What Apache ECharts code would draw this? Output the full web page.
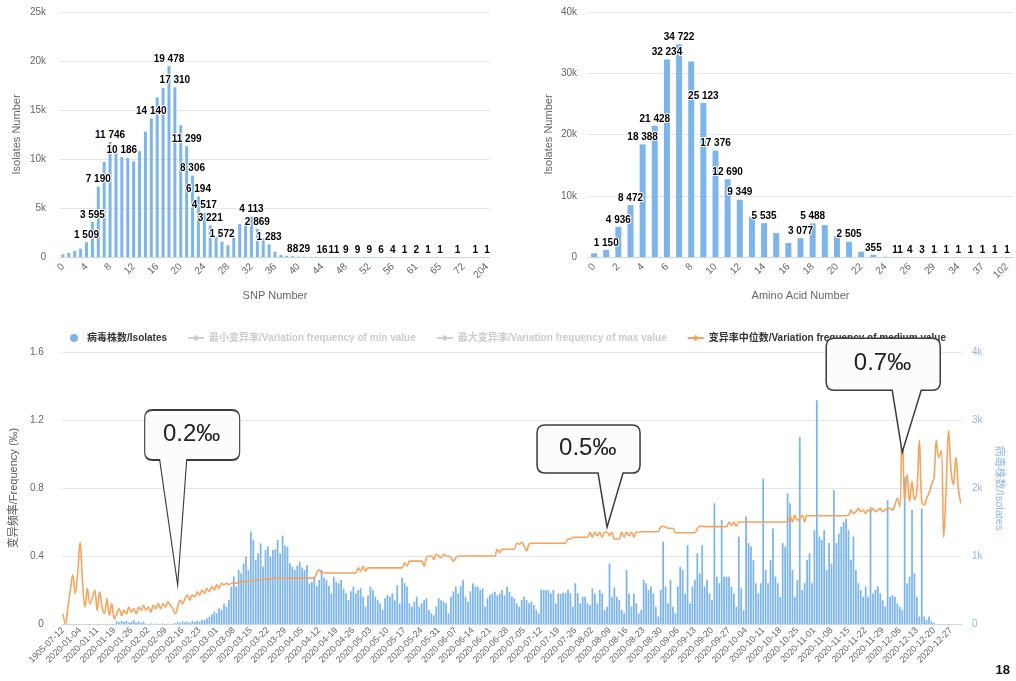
<!DOCTYPE html>
<html>
<head>
<meta charset="utf-8">
<script src="https://cdn.jsdelivr.net/npm/echarts@6/dist/echarts.min.js"></script>
<style>
  html, body { margin: 0; padding: 0; background: #fff; }
  #chart { width: 1016px; height: 681px; }
</style>
</head>
<body>
<div id="chart"></div>
<script>
// ---- top left: isolates by SNP number
const snpCategories = ['0','1','2','3','4','5','6','7','8','9','10','11','12','13','14','15','16','17','18','19',
  '20','21','22','23','24','25','26','27','28','29','30','31','32','33','34','35','36','37','38','39',
  '40','41','42','43','44','45','46','47','48','49','50','51','52','53','54','55','56',
  '57','58','59','61','62','63','64','65','67','68','70','72','74','79','88','204'];
const snpIsolates = [
  270, 410, 620, 850, 1509, 3595, 7190, 9700, 11746, 10900,
  10186, 10100, 9750, 10800, 12800, 14140, 16300, 17250, 19478, 17310,
  13450, 11299, 8306, 6194, 4517, 3221, 2050, 1572, 1200, 2200,
  3350, 3550, 4113, 2869, 1900, 1283, 550, 220, 120, 88,
  45, 29, 20, 18, 16, 13, 11, 10, 9, 8,
  9, 7, 9, 5, 6, 4, 4, 2, 1, 1,
  2, 1, 1, 1, 1, 1, 1, 1, 1, 1,
  1, 1, 1
];
// bars whose value label is visible
const snpLabelled = [4,5,6,8,10,15,18,19,21,22,23,24,25,27,32,33,35,39,41,44,46,48,50,52,54,56,58,60,62,64,67,70,72];

// ---- top right: isolates by amino acid number
const aaCategories = ['0','1','2','3','4','5','6','7','8','9','10','11','12','13','14','15','16','17','18','19',
  '20','21','22','23','24','25','26','28','29','31','34','36','37','41','102'];
const aaIsolates = [
  600, 1150, 4936, 8472, 18388, 21428, 32234, 34722, 31900, 25123,
  17376, 12690, 9349, 6600, 5535, 3900, 2300, 3077, 5488, 5200,
  3400, 2505, 870, 355, 40, 11, 4, 3, 1, 1,
  1, 1, 1, 1, 1
];
const aaLabelled = [1,2,3,4,5,6,7,9,10,11,12,14,17,18,21,23,25,26,27,28,29,30,31,32,33,34];

// ---- bottom: daily isolates and median variation frequency
const dates = ['1905-07-12', '2019-12-24', '2019-12-26', '2019-12-30', '2020-01-01', '2020-01-02', '2020-01-03'];
for (let t = Date.UTC(2020, 0, 4); t <= Date.UTC(2020, 11, 31); t += 86400000) {
  const d = new Date(t).toISOString().slice(0, 10);
  if (d !== '2020-01-15') dates.push(d);
}
const dailyIsolates = [
  0,0,0,0,0,0,0,0,0,0,
  0,0,0,0,0,0,0,0,0,0,
  0,0,40,25,50,30,45,20,35,55,
  25,40,20,30,5,0,8,0,5,3,
  0,6,0,4,0,5,10,30,15,40,
  25,35,20,45,30,50,35,60,60,84,
  108,140,180,157,230,206,300,255,353,550,
  700,550,794,745,890,990,794,1360,1235,941,
  1039,1186,842,1088,1140,990,1088,1100,1235,1039,
  1300,1150,1136,892,842,794,860,916,830,794,
  867,598,620,700,560,650,794,680,650,560,
  451,696,620,598,650,520,451,353,480,550,
  451,500,525,402,255,420,549,500,402,350,
  304,206,380,426,402,451,350,573,304,680,
  600,550,304,255,330,402,255,304,350,378,
  206,160,130,255,378,350,329,304,157,400,
  480,550,451,560,650,402,329,480,598,550,
  550,500,525,255,380,426,451,475,420,451,
  500,420,550,475,400,378,305,255,353,400,
  353,305,330,280,205,157,510,500,500,495,
  450,500,305,450,440,460,460,500,450,255,
  600,450,305,400,400,305,280,525,450,305,
  500,450,205,255,890,400,540,400,353,205,
  157,795,450,255,450,305,157,205,650,600,
  500,550,450,255,110,500,1210,550,305,650,
  255,157,550,840,795,450,1160,305,550,650,
  1040,745,1160,550,650,450,353,1775,695,600,
  1530,695,695,695,550,450,255,1285,525,205,
  1580,1190,1140,940,600,450,600,2140,795,600,
  940,1405,700,600,400,1190,1140,1920,1775,795,
  400,650,2750,500,600,940,1040,600,1380,3290,
  1285,1235,1380,795,1190,890,1970,1190,1330,1430,
  1500,1550,1380,940,1285,795,600,500,400,550,
  400,1725,450,500,550,450,350,255,1820,400,
  425,400,300,255,205,2165,600,700,1675,745,
  400,110,1700,110,60,110,40,20,0,0,
  0,0,0,0,0,0,0,0,0
];
const medianFrequency = [
  0.06,0.0,0.1,0.2,0.29,0.18,0.3,0.48,0.25,0.1,
  0.21,0.12,0.15,0.2,0.08,0.19,0.1,0.06,0.15,0.05,
  0.12,0.03,0.06,0.09,0.05,0.08,0.06,0.1,0.07,0.09,
  0.06,0.1,0.08,0.11,0.08,0.1,0.07,0.11,0.09,0.12,
  0.09,0.12,0.1,0.13,0.11,0.09,0.06,0.1,0.14,0.12,
  0.15,0.17,0.14,0.17,0.16,0.19,0.17,0.2,0.18,0.21,
  0.19,0.22,0.2,0.23,0.21,0.24,0.23,0.24,0.23,0.24,
  0.24,0.24,0.245,0.245,0.25,0.25,0.25,0.255,0.255,0.26,
  0.26,0.26,0.26,0.265,0.265,0.265,0.27,0.27,0.27,0.27,
  0.27,0.27,0.27,0.27,0.27,0.27,0.27,0.27,0.27,0.27,
  0.27,0.27,0.27,0.27,0.3,0.32,0.3,0.3,0.3,0.3,
  0.3,0.3,0.3,0.3,0.3,0.3,0.3,0.3,0.3,0.3,
  0.3,0.33,0.31,0.34,0.31,0.33,0.33,0.33,0.33,0.33,
  0.33,0.33,0.33,0.33,0.33,0.33,0.33,0.33,0.33,0.33,
  0.36,0.34,0.37,0.37,0.37,0.37,0.37,0.37,0.34,0.39,
  0.4,0.4,0.38,0.41,0.4,0.39,0.41,0.4,0.4,0.39,
  0.37,0.39,0.4,0.4,0.4,0.4,0.4,0.4,0.4,0.4,
  0.4,0.4,0.4,0.4,0.4,0.4,0.4,0.4,0.44,0.42,
  0.44,0.44,0.44,0.44,0.44,0.44,0.475,0.47,0.48,0.46,
  0.43,0.47,0.475,0.475,0.475,0.475,0.475,0.475,0.475,0.475,
  0.475,0.475,0.475,0.475,0.475,0.475,0.475,0.5,0.5,0.51,
  0.51,0.51,0.51,0.51,0.51,0.51,0.54,0.51,0.54,0.52,
  0.54,0.51,0.54,0.54,0.52,0.54,0.5,0.5,0.5,0.54,
  0.51,0.54,0.52,0.54,0.51,0.54,0.54,0.543,0.543,0.543,
  0.543,0.543,0.543,0.543,0.543,0.57,0.575,0.57,0.563,0.563,
  0.563,0.537,0.537,0.537,0.537,0.537,0.537,0.537,0.537,0.537,
  0.56,0.575,0.575,0.573,0.573,0.573,0.573,0.573,0.573,0.573,
  0.573,0.573,0.573,0.6,0.58,0.6,0.575,0.6,0.6,0.6,
  0.6,0.6,0.6,0.6,0.6,0.6,0.6,0.6,0.6,0.6,
  0.6,0.6,0.6,0.6,0.6,0.6,0.6,0.6,0.64,0.6,
  0.64,0.61,0.62,0.64,0.6,0.64,0.637,0.637,0.637,0.637,
  0.637,0.637,0.637,0.637,0.637,0.637,0.637,0.637,0.637,0.637,
  0.637,0.637,0.64,0.67,0.65,0.66,0.68,0.66,0.67,0.65,
  0.67,0.66,0.68,0.66,0.67,0.68,0.66,0.67,0.68,0.68,
  0.67,0.7,0.74,0.69,1.26,0.72,0.88,0.72,0.84,0.73,
  0.78,1.08,0.72,0.7,0.74,0.77,0.82,0.86,1.08,0.98,
  1.02,0.51,0.8,1.14,0.9,0.82,0.98,0.8,0.71
];
// callouts: text, category index and value the pointer reaches
const callouts = [
  { text: '0.2‰', idx: 47, value: 0.23 },
  { text: '0.5‰', idx: 223, value: 0.57 },
  { text: '0.7‰', idx: 344, value: 1.01 }
];
// callout shapes (box + tail), in pixels
const calloutShapes = [
  { w: 95, h: 175, boxH: 50, tipX: 33, path: 'path://M8,0H87Q95,0,95,8V42Q95,50,87,50H42L33,175L15,50H8Q0,50,0,42V8Q0,0,8,0Z' },
  { w: 103, h: 102, boxH: 48, tipX: 70, path: 'path://M8,0H95Q103,0,103,8V40Q103,48,95,48H86L70,102L61,48H8Q0,48,0,40V8Q0,0,8,0Z' },
  { w: 114, h: 114, boxH: 52, tipX: 76, path: 'path://M8,0H106Q114,0,114,8V44Q114,52,106,52H95L76,114L66,52H8Q0,52,0,44V8Q0,0,8,0Z' }
];

const NAMES = {
  isolates: '病毒株数/Isolates',
  min: '最小变异率/Variation frequency of min value',
  max: '最大变异率/Variation frequency of max value',
  median: '变异率中位数/Variation frequency of medium value'
};
const FONT = '"Liberation Sans", Arial, "Noto Sans CJK SC", sans-serif';
const BLUE = '#7cb5ec';
const ORANGE = '#f7a35c';

function spaced(v) {
  return v >= 1000 ? Math.floor(v / 1000) + ' ' + String(v % 1000).padStart(3, '0') : String(v);
}
function kilo(v) {
  return v === 0 ? '0' : (v / 1000) + 'k';
}
function barLabel(list) {
  return {
    show: true, position: 'top', distance: 2,
    fontSize: 10, fontWeight: 'bold', color: '#000',
    textBorderColor: '#fff', textBorderWidth: 2,
    formatter: p => list.indexOf(p.dataIndex) >= 0 ? spaced(p.value) : ''
  };
}

const catAxisBase = {
  type: 'category',
  axisTick: { show: false },
  axisLine: { lineStyle: { color: '#ccd6eb' } },
  nameLocation: 'middle',
  nameTextStyle: { color: '#666', fontSize: 11 }
};
const valAxisBase = {
  type: 'value',
  nameLocation: 'middle',
  nameTextStyle: { color: '#666', fontSize: 11 },
  axisLabel: { color: '#666', fontSize: 10, formatter: kilo },
  splitLine: { lineStyle: { color: '#e6e6e6' } }
};

let myChart = echarts.init(document.getElementById('chart'));

const option = {
  animation: false,
  textStyle: { fontFamily: FONT },
  legend: {
    top: 328, left: 'center',
    itemGap: 20, itemWidth: 16, itemHeight: 8,
    inactiveColor: '#cccccc',
    textStyle: { color: '#333', fontSize: 10, fontWeight: 'bold' },
    data: [
      { name: NAMES.isolates, icon: 'circle' },
      NAMES.min, NAMES.max, NAMES.median
    ],
    selected: { [NAMES.min]: false, [NAMES.max]: false }
  },
  grid: [
    { left: 60, top: 12, width: 430, height: 245 },
    { left: 588, top: 12, width: 425, height: 245 },
    { left: 57, top: 352, width: 905, height: 272 }
  ],
  xAxis: [
    Object.assign({}, catAxisBase, {
      gridIndex: 0, data: snpCategories, name: 'SNP Number', nameGap: 33,
      axisLabel: { interval: 3, rotate: 45, color: '#666', fontSize: 10 }
    }),
    Object.assign({}, catAxisBase, {
      gridIndex: 1, data: aaCategories, name: 'Amino Acid Number', nameGap: 33,
      axisLabel: { interval: 1, rotate: 45, color: '#666', fontSize: 10 }
    }),
    Object.assign({}, catAxisBase, {
      gridIndex: 2, data: dates,
      axisLabel: { interval: 6, rotate: 45, color: '#666', fontSize: 9, margin: 5 }
    })
  ],
  yAxis: [
    Object.assign({}, valAxisBase, {
      gridIndex: 0, min: 0, max: 25000, interval: 5000,
      name: 'Isolates Number', nameGap: 38,
      axisLabel: { color: '#666', fontSize: 10, formatter: kilo, margin: 14 }
    }),
    Object.assign({}, valAxisBase, {
      gridIndex: 1, min: 0, max: 40000, interval: 10000,
      name: 'Isolates Number', nameGap: 34,
      axisLabel: { color: '#666', fontSize: 10, formatter: kilo, margin: 11 }
    }),
    Object.assign({}, valAxisBase, {
      gridIndex: 2, min: 0, max: 1.6, interval: 0.4,
      name: '变异频率/Frequency (‰)', nameGap: 34,
      nameTextStyle: { color: '#555', fontSize: 11 },
      axisLabel: { color: '#666', fontSize: 10, margin: 18,
        formatter: v => v === 0 ? '0' : v.toFixed(1) }
    }),
    Object.assign({}, valAxisBase, {
      gridIndex: 2, position: 'right', min: 0, max: 4000, interval: 1000,
      name: '病毒株数/Isolates', nameGap: 28, nameRotate: -90,
      nameTextStyle: { color: '#8fbbe8', fontSize: 11 },
      axisLabel: { color: '#8fbbe8', fontSize: 10, formatter: kilo, margin: 10 },
      splitLine: { show: false }
    })
  ],
  series: [
    {
      name: 'snp', type: 'bar', xAxisIndex: 0, yAxisIndex: 0,
      data: snpIsolates, barWidth: 3, itemStyle: { color: BLUE },
      label: barLabel(snpLabelled)
    },
    {
      name: 'aa', type: 'bar', xAxisIndex: 1, yAxisIndex: 1,
      data: aaIsolates, barWidth: 6, itemStyle: { color: BLUE },
      label: barLabel(aaLabelled)
    },
    {
      name: NAMES.isolates, type: 'bar', xAxisIndex: 2, yAxisIndex: 3,
      data: dailyIsolates, barWidth: '72%', itemStyle: { color: BLUE }
    },
    {
      name: NAMES.min, type: 'line', xAxisIndex: 2, yAxisIndex: 2,
      data: [], symbol: 'diamond', color: '#999'
    },
    {
      name: NAMES.max, type: 'line', xAxisIndex: 2, yAxisIndex: 2,
      data: [], symbol: 'diamond', color: '#999'
    },
    {
      name: NAMES.median, type: 'line', xAxisIndex: 2, yAxisIndex: 2,
      data: medianFrequency, smooth: 0.4, symbol: 'diamond', showSymbol: false,
      color: ORANGE, lineStyle: { color: ORANGE, width: 1.6 },
      markPoint: {
        silent: true,
        itemStyle: { color: '#fcfcfc', borderColor: '#3c3c3c', borderWidth: 1.5 },
        label: {
          show: true, formatter: '{b}', fontSize: 24, color: '#222',
          align: 'center', verticalAlign: 'middle'
        },
        data: callouts.map((c, i) => {
          const s = calloutShapes[i];
          return {
            name: c.text,
            coord: [dates[c.idx], c.value],
            symbol: s.path,
            symbolSize: [s.w, s.h],
            symbolOffset: [s.w / 2 - s.tipX, -s.h / 2],
            label: { position: [s.w / 2, s.boxH / 2] }
          };
        })
      }
    }
  ],
  graphic: [
    { type: 'text', right: 6, bottom: 4,
      style: { text: '18', font: 'bold 13px ' + FONT, fill: '#111' } }
  ]
};

myChart.setOption(option);
window.addEventListener('resize', function () {
  myChart.resize();
});
</script>
</body>
</html>
